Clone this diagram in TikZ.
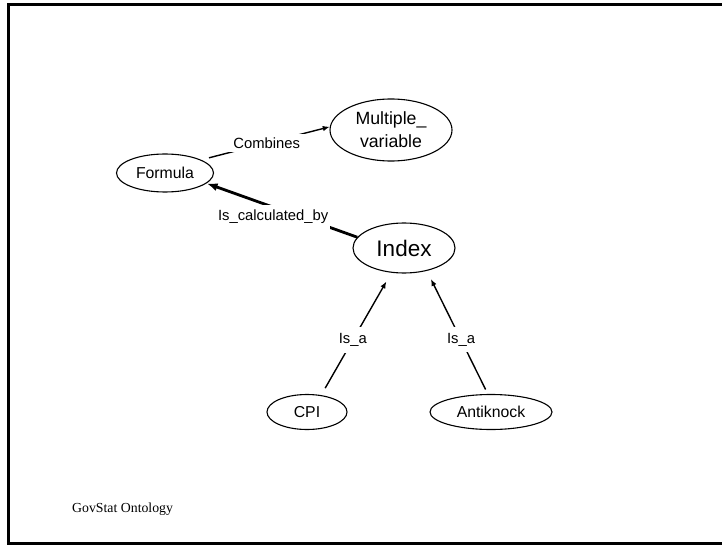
\documentclass[tikz,border=0pt]{standalone}
\usepackage{fontspec}
\setmainfont{Liberation Serif}
\newfontfamily\arialfont{Liberation Sans}
\usetikzlibrary{arrows.meta,shapes.geometric}

\tikzset{
  concept/.style={ellipse, draw, line width=1.1pt, inner sep=0pt,
    font=\arialfont\fontsize{15.8}{18}\selectfont},
  relation/.style={line width=1.4pt, -{Latex[length=7pt,width=5.5pt]}},
  strongrel/.style={line width=2.8pt, -{Latex[length=11pt,width=8pt]}},
  rellabel/.style={fill=white, inner xsep=3pt, inner ysep=5pt,
    font=\arialfont\fontsize{14.8}{17}\selectfont},
}

\begin{document}
\begin{tikzpicture}[x=1pt, y=-1pt]
  \useasboundingbox (0,0) rectangle (722,545);

  % slide frame, open on the right
  \draw[line width=2.6pt] (730,4.5) -- (8.5,4.5) -- (8.5,543.5) -- (730,543.5);

  % concepts
  \node[concept, minimum width=97pt, minimum height=38pt] (formula) at (165,173) {Formula};
  \node[concept, minimum width=122pt, minimum height=62pt, align=center,
        font=\arialfont\fontsize{17.7}{23}\selectfont] (multi) at (391,130) {Multiple\_\\variable};
  \node[concept, minimum width=102pt, minimum height=50pt,
        font=\arialfont\fontsize{22.5}{26}\selectfont] (index) at (404,248) {Index};
  \node[concept, minimum width=80pt, minimum height=35pt] (cpi) at (307,412) {CPI};
  \node[concept, minimum width=122pt, minimum height=35pt] (anti) at (491,412) {Antiknock};

  % relations
  \draw[relation, shorten <=8pt] (formula.20) -- (multi.177)
    node[rellabel, pos=0.51, inner ysep=4pt, inner xsep=7pt] {Combines};
  \draw[strongrel] (index.167) -- (formula.-14)
    node[rellabel, pos=0.558, yshift=-10pt, inner xsep=1.5pt] {Is\_calculated\_by};
  \draw[relation, shorten <=8pt, shorten >=10pt] (cpi.50) -- (index.-117)
    node[rellabel, pos=0.45, inner ysep=6pt] {Is\_a};
  \draw[relation, shorten <=5pt, shorten >=9pt] (anti.100) -- (index.-45)
    node[rellabel, pos=0.44, inner ysep=6pt] {Is\_a};

  % footer
  \node[anchor=base west, inner sep=0pt, font=\fontsize{13.8}{16}\selectfont]
    (footer) at (72,512) {GovStat Ontology};
\end{tikzpicture}
\end{document}
